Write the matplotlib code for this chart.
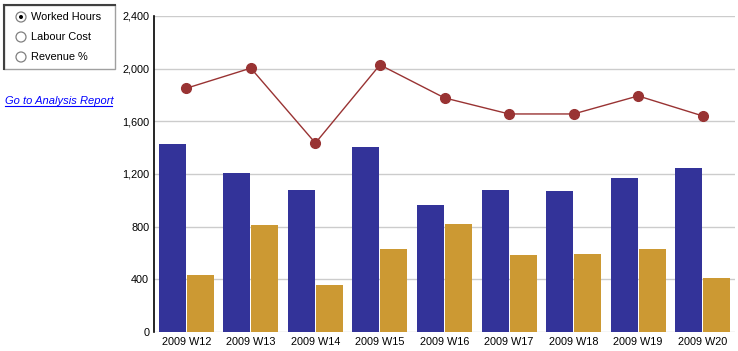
import matplotlib.pyplot as plt
from matplotlib.patches import Circle, Rectangle
from matplotlib.lines import Line2D

# weekly data
weeks = ["2009 W12", "2009 W13", "2009 W14", "2009 W15", "2009 W16",
         "2009 W17", "2009 W18", "2009 W19", "2009 W20"]
worked_hours = [1425, 1204, 1082, 1402, 968, 1082, 1074, 1166, 1242]
labour_cost = [434, 815, 358, 632, 823, 587, 594, 632, 411]
revenue_pct = [1851, 2004, 1435, 2029, 1778, 1656, 1656, 1793, 1641]
y_ticks = [0, 400, 800, 1200, 1600, 2000, 2400]
options = ["Worked Hours", "Labour Cost", "Revenue %"]

plt.rcParams['font.family'] = ['Liberation Sans', 'DejaVu Sans']

W, H = 738, 351
fig = plt.figure(figsize=(W / 100, H / 100), dpi=100)

# main chart
ax = fig.add_axes([154 / W, (H - 332) / H, (735 - 154) / W, (332 - 16) / H])
x = list(range(len(weeks)))
bw = 27 / 64.6
off = 14 / 64.6
ax.bar([i - off for i in x], worked_hours, width=bw, color='#333399', zorder=2)
ax.bar([i + off for i in x], labour_cost, width=bw, color='#CC9933', zorder=2)
ax.plot(x, revenue_pct, color='#993333', lw=1, marker='o', ms=7, zorder=3)

ax.set_xlim(-0.5, len(weeks) - 0.5)
ax.set_ylim(0, 2400)
ax.set_yticks(y_ticks)
ax.set_yticklabels([f"{v:,}" for v in y_ticks])
ax.set_xticks(x)
ax.set_xticklabels(weeks)
ax.tick_params(length=0, labelsize=7.8, colors='black')
ax.tick_params(axis='y', pad=3.5)
ax.tick_params(axis='x', pad=3.5)
ax.grid(axis='y', color='#cccccc', lw=1, zorder=0)
for s in ['top', 'right', 'bottom']:
    ax.spines[s].set_visible(False)
ax.spines['left'].set_color('black')
ax.spines['left'].set_linewidth(1.2)

# left control panel, drawn in pixel coords
ui = fig.add_axes([0, 0, 1, 1])
ui.set_xlim(0, W)
ui.set_ylim(H, 0)
ui.axis('off')

ui.add_patch(Rectangle((4, 5), 111, 64, fill=False, edgecolor='#a0a0a0', lw=1))
ui.add_line(Line2D([4, 115], [5, 5], color='#404040', lw=1.5))
ui.add_line(Line2D([4, 4], [5, 69], color='#404040', lw=1.5))

for k, opt in enumerate(options):
    cy = 17 + 20 * k
    ui.add_patch(Circle((21, cy), 5, facecolor='white', edgecolor='#808080', lw=0.9))
    if k == 0:
        ui.add_patch(Circle((21, cy), 2, facecolor='black', edgecolor='none'))
    ui.text(31, cy, opt, fontsize=7.9, va='center', ha='left')

ui.text(5, 101, "Go to Analysis Report", fontsize=8, style='italic',
        color='#0000ff', va='center', ha='left')
ui.add_line(Line2D([5, 112], [106, 106], color='#0000ff', lw=0.8))

fig.savefig("out.png", dpi=100)
